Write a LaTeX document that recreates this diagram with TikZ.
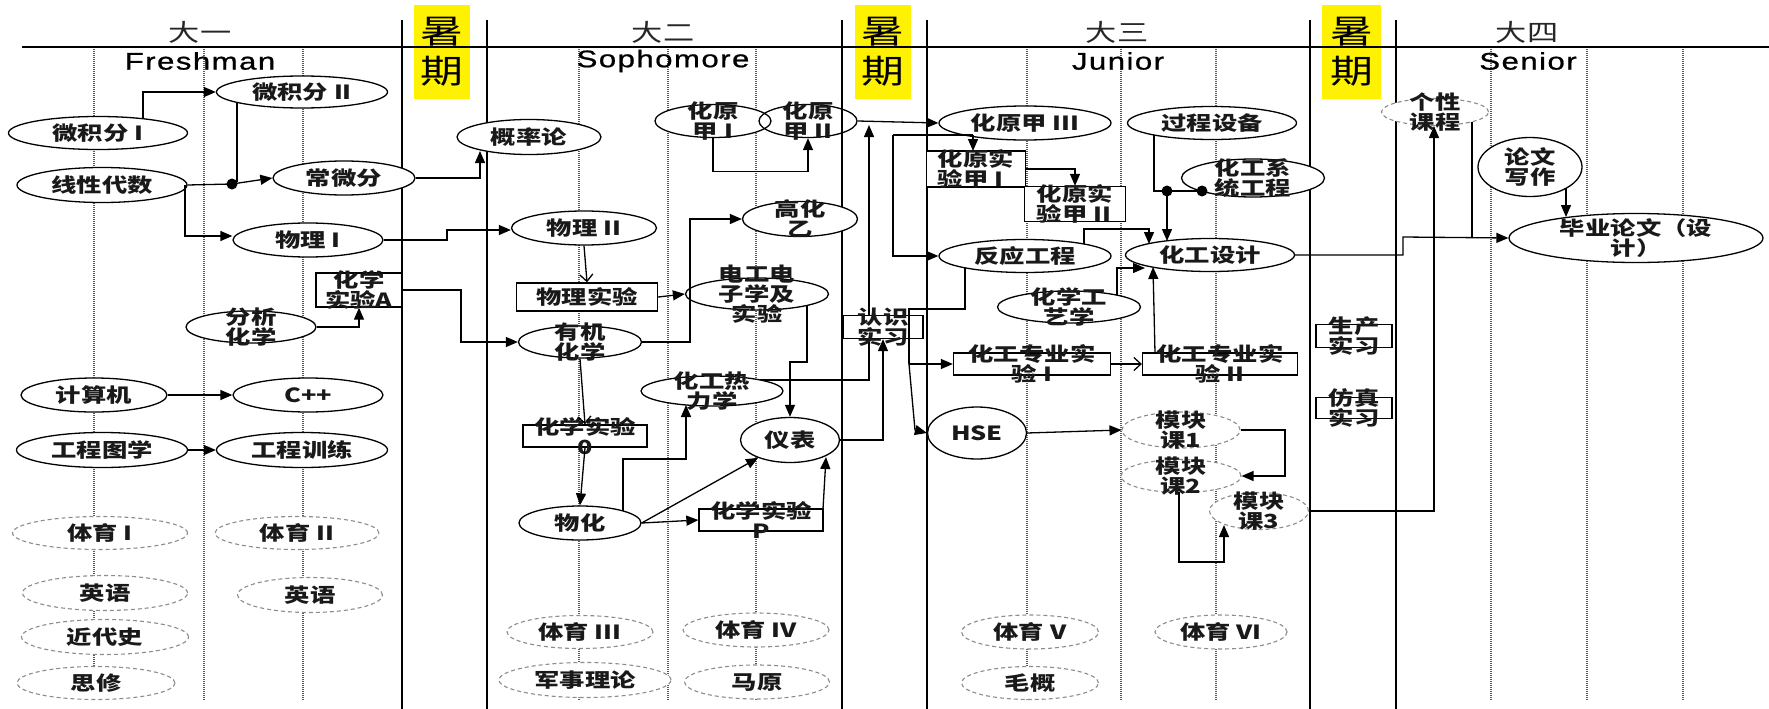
\documentclass[tikz,border=0pt]{standalone}
\usepackage{fontspec}
\setmainfont{Noto Sans CJK SC}
\newfontfamily\ndfam[FakeStretch=1.3]{Noto Sans CJK SC}
\newfontfamily\hdlat[FakeStretch=1.3,LetterSpace=6,FakeBold=0.8]{Liberation Sans}
\newcommand\ndfont{\ndfam\bfseries\fontsize{19.5pt}{20pt}\selectfont}
\newcommand\hdfont{\ndfam\fontsize{24pt}{26pt}\selectfont}
\newcommand\smfont{\ndfam\fontsize{33pt}{40pt}\selectfont}
\newcommand\latfont{\hdlat\fontsize{24pt}{26pt}\selectfont}
\usetikzlibrary{shapes.geometric,arrows.meta,calc}
\pgfdeclarelayer{bg}
\pgfsetlayers{bg,main}
\begin{document}
\begin{tikzpicture}[x=1pt,y=-1pt,
  every label/.append style={font=\ndfont, align=center, inner sep=0pt, text=black!90},
  E/.style={ellipse, draw=black, line width=1.3pt, fill=white, inner sep=0pt},
  Eo/.style={ellipse, draw=black, line width=1.3pt, inner sep=0pt},
  Ed/.style={ellipse, draw=black!45, dash pattern=on 4pt off 3pt, line width=1.1pt, fill=white, inner sep=0pt},
  R/.style={rectangle, draw=black, line width=1.3pt, fill=white, inner sep=0pt},
  sz/.style 2 args={minimum width=#1pt, minimum height=#2pt},
  arr/.style={line width=1.3pt, -{Triangle[length=12pt,width=10pt]}},
  oarr/.style={line width=1.3pt, -{Straight Barb[length=7pt,width=13pt]}},
  ln/.style={line width=1.3pt},
  dotline/.style={draw=black!65, line width=1.6pt, dash pattern=on 1pt off 1pt},
  sepline/.style={draw=black, line width=1.5pt},
  summer/.style={fill=yellow, inner sep=0pt, minimum width=56pt, minimum height=93pt, align=center, font=\smfont},
  hd/.style={font=\hdfont, text=black!85},
  hdl/.style={font=\latfont}
]
\useasboundingbox (0,0) rectangle (1769,709);

% ---------- background grid ----------
\begin{pgfonlayer}{bg}
\foreach \x in {94,204,303,579,668,756,1027,1121,1216,1491,1587,1683}
  \draw[dotline] (\x,47) -- (\x,700);
\node[summer] (s1) at (442,52) {暑\\期};
\node[summer] (s2) at (882.5,52) {暑\\期};
\node[summer, minimum width=59pt] (s3) at (1351.5,52) {暑\\期};
\foreach \x in {402,487,842,927,1310,1396}
  \draw[sepline] (\x,20) -- (\x,709);
\draw[line width=2.5pt] (22,47) -- (1769,47);
\end{pgfonlayer}

% ---------- headers ----------
\node[hd] (h1) at (200,32) {大一};
\node[hdl] (e1) at (200,61) {Freshman};
\node[hd] (h2) at (663,32) {大二};
\node[hdl] (e2) at (663,61) {Sophomore};
\node[hd] (h3) at (1117,32) {大三};
\node[hdl] (e3) at (1118,61) {Junior};
\node[hd] (h4) at (1527,32) {大四};
\node[hdl] (e4) at (1528,61) {Senior};

% ---------- year 1 ----------
\node[E, sz={179}{33}, label={center:微积分 I}] (wj1) at (98,133) {};
\node[E, sz={170}{35}, label={center:线性代数}] (xx) at (102,185) {};
\node[E, sz={171}{32}, label={center:微积分 II}] (wj2) at (302,92) {};
\node[E, sz={142}{34}, label={center:常微分}] (cwf) at (344,178) {};
\node[E, sz={150}{34}, label={center:物理 I}] (wl1) at (308,240) {};
\node[R, sz={86}{34}, label={center:{化学\\实验A}}] (hxA) at (359,290) {};
\node[E, sz={130}{32}, label={center:{分析\\化学}}] (fx) at (251,327) {};
\node[E, sz={146}{34}, label={center:计算机}] (jsj) at (94,395) {};
\node[E, sz={150}{34}, label={center:C++}] (cpp) at (308,395) {};
\node[E, sz={171}{35}, label={center:工程图学}] (gct) at (102,450) {};
\node[E, sz={171}{35}, label={center:工程训练}] (gcx) at (302,450) {};
\node[Ed, sz={175}{33}, label={center:体育 I}] (ty1) at (100,533) {};
\node[Ed, sz={164}{33}, label={center:体育 II}] (ty2) at (297,533) {};
\node[Ed, sz={165}{35}, label={center:英语}] (yy1) at (105,593) {};
\node[Ed, sz={145}{35}, label={center:英语}] (yy2) at (310,595) {};
\node[Ed, sz={167}{35}, label={center:近代史}] (jds) at (105,637) {};
\node[Ed, sz={158}{33}, label={center:思修}] (sx) at (96,683) {};

% ---------- year 2 ----------
\node[E, sz={144}{35}, label={center:概率论}] (gl) at (529,137) {};
\node[E, sz={116}{33}, label={center:{化原\\甲 I}}] (hy1) at (713,121) {};
\node[Eo, sz={98}{33}, label={center:{化原\\甲 II}}] (hy2) at (808,121) {};
\node[E, sz={145}{34}, label={center:物理 II}] (wl2) at (584,228) {};
\node[E, sz={115}{35}, label={center:{高化\\乙}}] (ghy) at (800,219) {};
\node[R, sz={141}{28}, label={center:物理实验}] (wls) at (587,297) {};
\node[E, sz={143}{32}, label={center:{电工电\\子学及\\实验}}] (dg) at (757,294) {};
\node[E, sz={123}{32}, label={center:{有机\\化学}}] (yj) at (580,342) {};
\node[E, sz={142}{30}, label={center:{化工热\\力学}}] (rl) at (712,391) {};
\node[R, sz={124}{22}, label={center:{化学实验\\0}}] (hs0) at (585,436) {};
\node[E, sz={99}{45}, label={center:仪表}] (yb) at (790,440) {};
\node[E, sz={122}{34}, label={center:物化}] (wh) at (580,523) {};
\node[R, sz={124}{22}, label={center:{化学实验\\P}}] (hsP) at (761,520) {};
\node[Ed, sz={146}{33}, label={center:体育 III}] (ty3) at (580,632) {};
\node[Ed, sz={172}{35}, label={center:军事理论}] (js) at (585,680) {};
\node[Ed, sz={146}{34}, label={center:体育 IV}] (ty4) at (756,630) {};
\node[Ed, sz={145}{34}, label={center:马原}] (my) at (757,682) {};

% ---------- summer 2 ----------
\node[R, sz={80}{23}, label={center:{认识\\实习}}] (rs) at (883,327) {};

% ---------- year 3 ----------
\node[E, sz={172}{34}, label={center:化原甲 III}] (hy3) at (1025,123) {};
\node[R, sz={99}{36}, label={[align=left]center:{化原实\\验甲 I}}] (sy1) at (976,169) {};
\node[R, sz={101}{35}, label={[align=left]center:{化原实\\验甲 II}}] (sy2) at (1075,204) {};
\node[E, sz={169}{33}, label={center:过程设备}] (gcs) at (1212,123) {};
\node[E, sz={143}{38}, label={center:{化工系\\统工程}}] (xt) at (1253,178) {};
\node[E, sz={172}{33}, label={center:反应工程}] (fy) at (1025,256) {};
\node[E, sz={169}{33}, label={center:化工设计}] (sj) at (1210,255) {};
\node[E, sz={143}{32}, label={center:{化学工\\艺学}}] (gy) at (1069,307) {};
\node[R, sz={157}{22}, label={center:{化工专业实\\验 I}}] (zy1) at (1032,364) {};
\node[R, sz={155}{22}, label={center:{化工专业实\\验 II}}] (zy2) at (1220,364) {};
\node[E, sz={99}{52}, label={center:HSE}] (hse) at (977,433) {};
\node[Ed, sz={118}{36}, label={center:{模块\\课1}}] (mk1) at (1181,430) {};
\node[Ed, sz={120}{33}, label={center:{模块\\课2}}] (mk2) at (1181,476) {};
\node[Ed, sz={99}{37}, label={center:{模块\\课3}}] (mk3) at (1259,511) {};
\node[Ed, sz={137}{34}, label={center:体育 V}] (ty5) at (1030,632) {};
\node[Ed, sz={137}{33}, label={center:毛概}] (mg) at (1030,683) {};
\node[Ed, sz={132}{34}, label={center:体育 VI}] (ty6) at (1221,632) {};

% ---------- summer 3 ----------
\node[R, sz={76}{23}, label={center:{生产\\实习}}] (sc) at (1354,336) {};
\node[R, sz={76}{21}, label={center:{仿真\\实习}}] (fz) at (1354,408) {};

% ---------- year 4 ----------
\node[Ed, sz={107}{27}, label={center:{个性\\课程}}] (gx) at (1435,112) {};
\node[E, sz={104}{59}, label={center:{论文\\写作}}] (lw) at (1530,167) {};
\node[E, sz={254}{49}, label={center:{毕业论文（设\\计）}}] (by) at (1636,238) {};

% ---------- junction points ----------
\coordinate (d1) at (232,184);
\coordinate (d2) at (1167,191);
\coordinate (d3) at (1202,191);
\coordinate (j1) at (893,135);
\coordinate (j2) at (909,364);

% ---------- connectors (year 1) ----------
\draw[arr] (143,118) |- (wj2.west);
\draw[ln] (237,103) -- (237,182);
\draw[ln] (xx.east) -- (d1);
\draw[arr] (d1) -- (cwf.west);
\fill (d1) circle (5.5pt);
\draw[arr] (185,185) |- ($(wl1.west)+(0,-4)$);
\draw[arr] (cwf.east) -| (480,151);
\draw[arr] (wl1.east) -| (447,230) -- (wl2.west |- 0,230);
\draw[arr] (hxA.east) -| (461,342) -- (yj.west);
\draw[arr] (fx.east) -| (hxA.south);
\draw[arr] (jsj) -- (cpp);
\draw[arr] (gct) -- (gcx);

% ---------- connectors (year 2) ----------
\draw[oarr] (wl2.south) -- (wls.north);
\draw[arr] (wls.east) -- (dg.west);
\draw[arr] (yj.east) -| (690,219) -- (ghy.west);
\draw[oarr] (yj.south) -- (hs0.north);
\draw[arr] (hs0.south) -- (wh.north);
\draw[arr] (623,511) |- (686,459) -- (686,405);
\draw[arr] (wh.east) -- (yb);
\draw[arr] (wh.east) -- (hsP.west);
\draw[arr] (823,509) -- (826,457);
\draw[arr] (807,305) |- (790,362) -- (yb.north);
\begin{pgfonlayer}{bg}
\draw[arr] (760,380) -- (869,380) -- (869,125);
\end{pgfonlayer}
\draw[arr] (yb.east) -| (rs.south);
\draw[arr] (hy1.south) -- ++(0,33) -| (hy2.south);
\draw[arr] (hy2.east) -- (hy3.west);

% ---------- connectors (year 3) ----------
\draw[ln] (j1) -- (973,135);
\draw[arr] (973,135) -- (973,151);
\draw[arr] (j1) |- (fy.west);
\draw[ln] (965,268) |- (909,309) -- (j2);
\draw[arr] (j2) -- (zy1.west);
\draw[arr] (j2) -- (915,430) -- (hse.west);
\draw[arr] (sy1.east) -| (sy2.north);
\draw[ln] (1154,135) |- (d3);
\draw[arr] (d2) -- (1167,241);
\fill (d2) circle (5.5pt);
\fill (d3) circle (5.5pt);
\draw[arr] (1084,244) |- (1149,229) -- (1149,244);
\draw[arr] (1117,295) |- (1145,268);
\draw[arr] (1155,353) -- (1153,267);
\draw[oarr] (zy1.east) -- (zy2.west);
\draw[arr] (hse.east) -- (mk1.west);
\draw[arr] (mk1.east) -| (1285,476) -- (mk2.east);
\draw[arr] (1179,492) |- (1224,562) -- (1224,525);

% ---------- connectors (year 4) ----------
\draw[arr] (mk3.east) -| (1434,126);
\draw[ln] (1472,122) -- (1472,237);
\draw[arr] (sj.east) -| (1403,237) -- (by.west);
\draw[arr] (1566,188) -- (1566,217);
\end{tikzpicture}
\end{document}
